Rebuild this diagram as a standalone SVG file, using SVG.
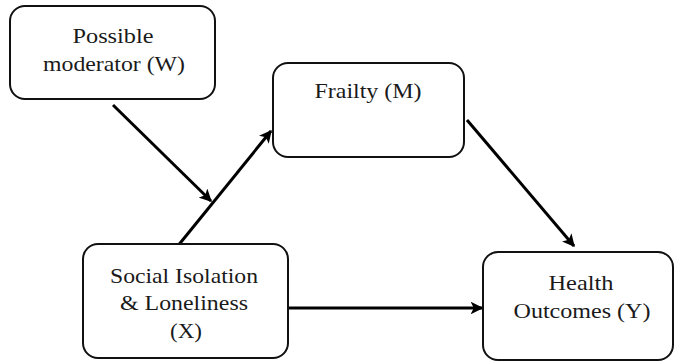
<svg xmlns="http://www.w3.org/2000/svg" width="675" height="362" viewBox="0 0 675 362">
  <defs>
    <marker id="arrow" viewBox="0 0 10 10" refX="9" refY="5" markerWidth="4.2" markerHeight="4.2" markerUnits="strokeWidth" orient="auto">
      <path d="M0,0 L10,5 L0,10 L2.5,5 Z" fill="#000"/>
    </marker>
    <style>
      .box { fill: #fff; stroke: #111; stroke-width: 2; }
      .lbl { font-size: 22px; fill: #1a1a1a; text-anchor: middle; }
      .edge { stroke: #000; stroke-width: 3; fill: none; marker-end: url(#arrow); }
    </style>
  </defs>
  <rect width="675" height="362" fill="#fff"/>

  <!-- connectors -->
  <g id="connectors">
    <line class="edge" x1="113" y1="105" x2="211" y2="201"/>
    <line class="edge" x1="177" y1="247" x2="271" y2="131"/>
    <line class="edge" x1="467" y1="120" x2="574" y2="246"/>
    <line class="edge" x1="288" y1="308" x2="482" y2="308"/>
  </g>

  <!-- nodes -->
  <g font-family="'Liberation Serif', 'DejaVu Serif', 'Times New Roman', serif">
    <g id="node-w">
      <rect class="box" x="10" y="6" width="205" height="93" rx="15"/>
      <text class="lbl" x="113" y="43" textLength="81" lengthAdjust="spacingAndGlyphs">Possible</text>
      <text class="lbl" x="114" y="71" textLength="142" lengthAdjust="spacingAndGlyphs">moderator (W)</text>
    </g>
    <g id="node-m">
      <rect class="box" x="273" y="63" width="191" height="94" rx="15"/>
      <text class="lbl" x="368" y="98" textLength="107" lengthAdjust="spacingAndGlyphs">Frailty (M)</text>
    </g>
    <g id="node-x">
      <rect class="box" x="83" y="244" width="205" height="114" rx="15"/>
      <text class="lbl" x="184" y="283" textLength="148" lengthAdjust="spacingAndGlyphs">Social Isolation</text>
      <text class="lbl" x="184" y="310" textLength="128" lengthAdjust="spacingAndGlyphs">&amp; Loneliness</text>
      <text class="lbl" x="186" y="338" textLength="32" lengthAdjust="spacingAndGlyphs">(X)</text>
    </g>
    <g id="node-y">
      <rect class="box" x="483" y="252" width="190" height="108" rx="15"/>
      <text class="lbl" x="581" y="290" textLength="65" lengthAdjust="spacingAndGlyphs">Health</text>
      <text class="lbl" x="582" y="318" textLength="137" lengthAdjust="spacingAndGlyphs">Outcomes (Y)</text>
    </g>
  </g>
</svg>
